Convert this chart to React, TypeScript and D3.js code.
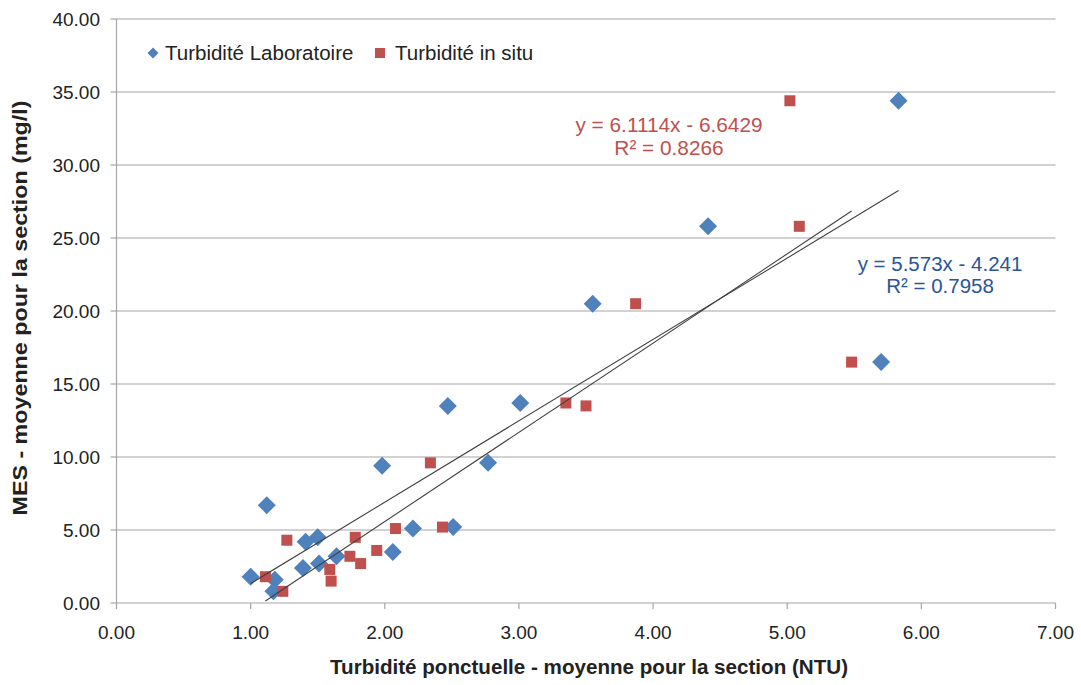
import React from "react";
import * as d3 from "d3";

// Turbidité laboratoire vs MES (moyennes par section)
const labX = [1.0, 1.12, 1.18, 1.17, 1.39, 1.41, 1.5, 1.51, 1.64, 2.06, 2.21, 2.51, 1.98, 2.77, 2.47, 3.01, 3.55, 4.41, 5.83, 5.7];
const labY = [1.8, 6.7, 1.6, 0.8, 2.4, 4.2, 4.5, 2.7, 3.2, 3.5, 5.1, 5.2, 9.4, 9.6, 13.5, 13.7, 20.5, 25.8, 34.4, 16.5];

// Turbidité in situ vs MES
const situX = [1.11, 1.24, 1.27, 1.59, 1.6, 1.74, 1.78, 1.82, 1.94, 2.08, 2.43, 2.34, 3.35, 3.5, 3.87, 5.09, 5.02, 5.48];
const situY = [1.8, 0.8, 4.3, 2.3, 1.5, 3.2, 4.5, 2.7, 3.6, 5.1, 5.2, 9.6, 13.7, 13.5, 20.5, 25.8, 34.4, 16.5];

// Linear trend coefficients [slope, intercept]
const labFit = [5.573, -4.241];
const situFit = [6.1114, -6.6429];
const labEq = ["y = 5.573x - 4.241", "R² = 0.7958"];
const situEq = ["y = 6.1114x - 6.6429", "R² = 0.8266"];

const xTicks = [0, 1, 2, 3, 4, 5, 6, 7];
const yTicks = [0, 5, 10, 15, 20, 25, 30, 35, 40];

const seriesNames = ["Turbidité Laboratoire", "Turbidité in situ"];
const xTitle = "Turbidité ponctuelle - moyenne pour la section (NTU)";
const yTitle = "MES - moyenne pour la section  (mg/l)";

const W = 1081;
const H = 685;
const left = 116.5;
const right = 1055.5;
const top = 19;
const bottom = 603;

const BLUE = "#4F81BD";
const RED = "#C0504D";
const FONT = "'Liberation Sans', Arial, sans-serif";

export default function App() {
  const x = d3.scaleLinear().domain([0, 7]).range([left, right]);
  const y = d3.scaleLinear().domain([0, 40]).range([bottom, top]);
  const fmt = d3.format(".2f");

  const trend = (xs: number[], fit: number[]) => {
    const [a, b] = d3.extent(xs) as [number, number];
    const line = d3
      .line<number>()
      .x((v) => x(v))
      .y((v) => y(fit[0] * v + fit[1]));
    return line([a, b]) || "";
  };

  const diamond = (cx: number, cy: number, r: number) =>
    `M${cx},${cy - r}L${cx + r},${cy}L${cx},${cy + r}L${cx - r},${cy}Z`;

  return (
    <svg
      width={W}
      height={H}
      style={{ position: "absolute", left: 0, top: 0, background: "#fff" }}
      fontFamily={FONT}
    >
      {/* horizontal gridlines */}
      {yTicks.map((t) => (
        <line key={"g" + t} x1={left} x2={right} y1={y(t)} y2={y(t)} stroke="#A6A6A6" strokeWidth={1.2} />
      ))}
      {/* y axis */}
      <line x1={left} x2={left} y1={top} y2={bottom} stroke="#A6A6A6" strokeWidth={1.2} />
      {yTicks.map((t) => (
        <g key={"yt" + t}>
          <line x1={left - 6} x2={left} y1={y(t)} y2={y(t)} stroke="#A6A6A6" strokeWidth={1.2} />
          <text x={100} y={y(t)} dy="0.36em" textAnchor="end" fontSize={19} fill="#222">
            {fmt(t)}
          </text>
        </g>
      ))}
      {/* x axis */}
      {xTicks.map((t) => (
        <g key={"xt" + t}>
          <line x1={x(t)} x2={x(t)} y1={bottom} y2={bottom + 6} stroke="#A6A6A6" strokeWidth={1.2} />
          <text x={x(t)} y={632} dy="0.36em" textAnchor="middle" fontSize={19} fill="#222">
            {fmt(t)}
          </text>
        </g>
      ))}

      {/* lab markers */}
      {labX.map((v, i) => (
        <path key={"l" + i} d={diamond(x(v), y(labY[i]), 9)} fill={BLUE} />
      ))}
      {/* in situ markers */}
      {situX.map((v, i) => (
        <rect key={"s" + i} x={x(v) - 5.5} y={y(situY[i]) - 5.5} width={11} height={11} fill={RED} />
      ))}

      {/* trend lines */}
      <path d={trend(labX, labFit)} stroke="#404040" strokeWidth={1.1} fill="none" />
      <path d={trend(situX, situFit)} stroke="#404040" strokeWidth={1.1} fill="none" />

      {/* equations */}
      <text x={669} y={125} dy="0.36em" textAnchor="middle" fontSize={20.8} fill={RED}>
        {situEq[0]}
      </text>
      <text x={669} y={148} dy="0.36em" textAnchor="middle" fontSize={20.8} fill={RED}>
        {situEq[1]}
      </text>
      <text x={940} y={264} dy="0.36em" textAnchor="middle" fontSize={20.5} fill="#2A5597">
        {labEq[0]}
      </text>
      <text x={940} y={286} dy="0.36em" textAnchor="middle" fontSize={20.5} fill="#2A5597">
        {labEq[1]}
      </text>

      {/* legend */}
      <path d={diamond(153, 53, 5.5)} fill={BLUE} />
      <text x={165} y={53} dy="0.36em" fontSize={20.5} fill="#222">
        {seriesNames[0]}
      </text>
      <rect x={375} y={48} width={10} height={10} fill={RED} />
      <text x={395} y={53} dy="0.36em" fontSize={20.5} fill="#222">
        {seriesNames[1]}
      </text>

      {/* axis titles */}
      <text
        x={589}
        y={667}
        dy="0.36em"
        textAnchor="middle"
        fontSize={20}
        fontWeight="bold"
        fill="#222"
        textLength={518}
        lengthAdjust="spacingAndGlyphs"
      >
        {xTitle}
      </text>
      <text
        transform="translate(20,308) rotate(-90)"
        dy="0.36em"
        textAnchor="middle"
        fontSize={20}
        fontWeight="bold"
        fill="#222"
        textLength={415}
        lengthAdjust="spacingAndGlyphs"
      >
        {yTitle}
      </text>
    </svg>
  );
}
